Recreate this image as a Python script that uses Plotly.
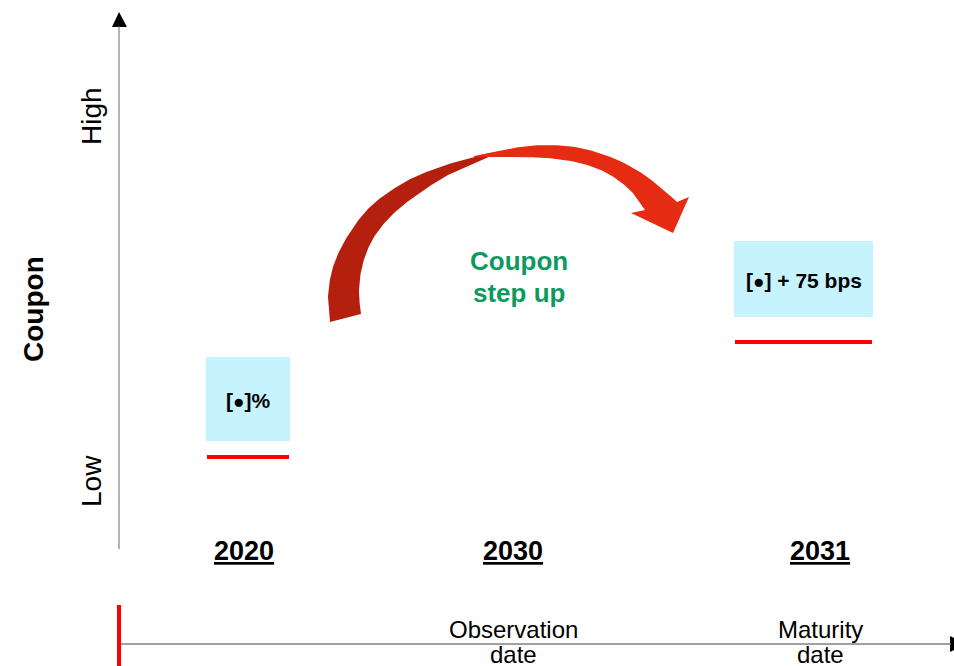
import numpy as np
import plotly.graph_objects as go

# ---- data ----
years = ["2020", "2030", "2031"]
year_x = [243.5, 513, 820]
milestone_x = [513, 820]
milestone_line1 = ["Observation", "Maturity"]
milestone_line2 = ["date", "date"]
coupon_labels = ["[•]%", "[•] + 75 bps"]
period_x0 = [207, 735]
period_x1 = [289, 872]
coupon_level = [457, 342]
box_top = [357, 241]
box_bottom = [441, 317]

FONT = "Arial, Liberation Sans, sans-serif"
W, H = 954, 666


def smooth(pts, n=20):
    """Catmull-Rom interpolation through pts."""
    p = np.array(pts, dtype=float)
    p = np.vstack([p[0], p, p[-1]])
    out = []
    for i in range(1, len(p) - 2):
        p0, p1, p2, p3 = p[i - 1], p[i], p[i + 1], p[i + 2]
        for t in np.linspace(0, 1, n, endpoint=False):
            t2, t3 = t * t, t * t * t
            out.append(0.5 * ((2 * p1) + (-p0 + p2) * t + (2 * p0 - 5 * p1 + 4 * p2 - p3) * t2
                              + (-p0 + 3 * p1 - 3 * p2 + p3) * t3))
    out.append(p[-2])
    return np.array(out)


fig = go.Figure()

# curved arrow: dark left band
outer_l = [(330, 322), (328, 297), (333, 267), (347, 237), (370, 207), (403, 183), (437, 168), (470, 158), (500, 151)]
inner_l = [(361, 314), (359, 290), (363, 263), (374, 237), (394, 213), (421, 192), (448, 175), (472, 164), (500, 152)]
o = smooth(outer_l)
i_ = smooth(inner_l)[::-1]
poly = np.vstack([o, i_])
fig.add_trace(go.Scatter(x=poly[:, 0], y=poly[:, 1], fill="toself", mode="lines",
                         line=dict(width=0, color="#B51F0D"), fillcolor="#B51F0D", hoverinfo="skip"))

# bright right band with head
outer_r = [(474, 156), (513, 148), (547, 145), (580, 148), (613, 158), (640, 172), (660, 187), (677, 202)]
inner_r = [(474, 157), (513, 157), (547, 158), (580, 163), (607, 173), (630, 190), (645, 210)]
o = smooth(outer_r)
i_ = smooth(inner_r)[::-1]
head = np.array([(689, 197), (673, 233), (631, 213)])
poly = np.vstack([o, head, i_])
fig.add_trace(go.Scatter(x=poly[:, 0], y=poly[:, 1], fill="toself", mode="lines",
                         line=dict(width=0, color="#E52B12"), fillcolor="#E52B12", hoverinfo="skip"))

# axis arrowheads
fig.add_trace(go.Scatter(x=[112, 119, 127, 112], y=[27, 12, 27, 27], fill="toself", mode="lines",
                         line=dict(width=0, color="black"), fillcolor="black", hoverinfo="skip"))
fig.add_trace(go.Scatter(x=[950, 966, 950, 950], y=[636, 644, 652, 636], fill="toself", mode="lines",
                         line=dict(width=0, color="black"), fillcolor="black", hoverinfo="skip"))

shapes = []
# vertical coupon axis
shapes.append(dict(type="line", x0=119, x1=119, y0=549, y1=26, line=dict(color="#666666", width=1)))
# timeline
shapes.append(dict(type="line", x0=119, x1=951, y0=644, y1=644, line=dict(color="#808080", width=1.5)))
shapes.append(dict(type="line", x0=119, x1=119, y0=605, y1=670, line=dict(color="#FF0000", width=4)))

for k in range(len(coupon_labels)):
    shapes.append(dict(type="rect", x0=period_x0[k] - 1, x1=period_x1[k] + 1, y0=box_top[k], y1=box_bottom[k],
                       fillcolor="#C6F3FE", line=dict(width=0), layer="below"))
    shapes.append(dict(type="line", x0=period_x0[k], x1=period_x1[k], y0=coupon_level[k], y1=coupon_level[k],
                       line=dict(color="#FF0000", width=4)))


def big_bullet(s):
    return s.replace("•", '<span style="font-size:19px">●</span>')


ann = []
for k in range(len(coupon_labels)):
    ann.append(dict(x=(period_x0[k] + period_x1[k]) / 2, y=(box_top[k] + box_bottom[k]) / 2 + 1,
                    text="<b>%s</b>" % big_bullet(coupon_labels[k]), showarrow=False,
                    font=dict(family=FONT, size=21, color="black")))
for k in range(len(years)):
    ann.append(dict(x=year_x[k], y=551, text="<u><b>%s</b></u>" % years[k], showarrow=False,
                    font=dict(family=FONT, size=27, color="black")))
for k in range(len(milestone_x)):
    ann.append(dict(x=milestone_x[k], y=629, text=milestone_line1[k], showarrow=False,
                    font=dict(family=FONT, size=24, color="black")))
    ann.append(dict(x=milestone_x[k], y=654, text=milestone_line2[k], showarrow=False,
                    font=dict(family=FONT, size=24, color="black")))

ann.append(dict(x=519, y=261, text="<b>Coupon</b>", showarrow=False,
                font=dict(family=FONT, size=26, color="#0E9A5E")))
ann.append(dict(x=519, y=293, text="<b>step up</b>", showarrow=False,
                font=dict(family=FONT, size=26, color="#0E9A5E")))

ann.append(dict(x=91, y=116, text="High", textangle=-90, showarrow=False,
                font=dict(family=FONT, size=28, color="black")))
ann.append(dict(x=91, y=481, text="Low", textangle=-90, showarrow=False,
                font=dict(family=FONT, size=28, color="black")))
ann.append(dict(x=33, y=309, text="<b>Coupon</b>", textangle=-90, showarrow=False,
                font=dict(family=FONT, size=28, color="black")))

fig.update_layout(
    width=W, height=H,
    margin=dict(l=0, r=0, t=0, b=0),
    paper_bgcolor="white", plot_bgcolor="white",
    showlegend=False,
    shapes=shapes, annotations=ann,
    xaxis=dict(range=[0, W], visible=False, fixedrange=True),
    yaxis=dict(range=[H, 0], visible=False, fixedrange=True),
)

fig.write_html("out.html", config={"displayModeBar": False})
